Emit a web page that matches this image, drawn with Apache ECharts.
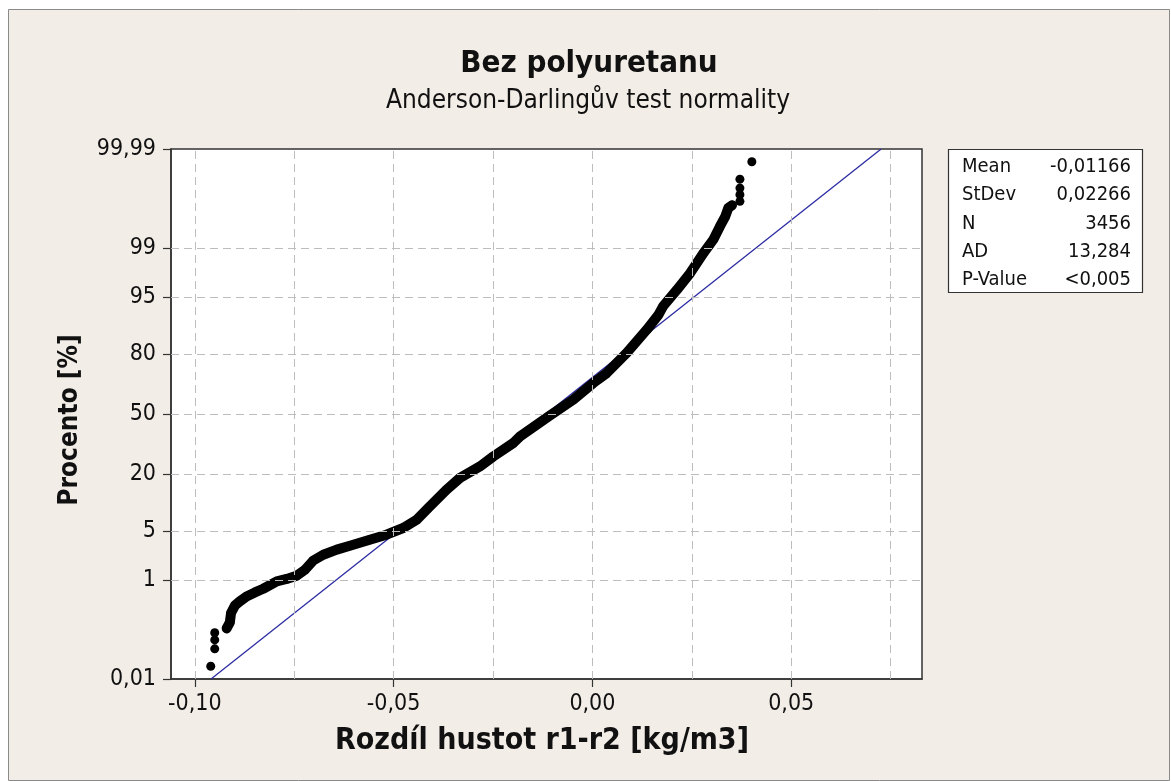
<!DOCTYPE html>
<html lang="cs">
<head>
<meta charset="UTF-8">
<title>Bez polyuretanu</title>
<script src="https://cdn.jsdelivr.net/npm/echarts@6/dist/echarts.min.js"></script>
<style>
    html, body { margin: 0; padding: 0; background: #fff; }
    #chart { width: 1171px; height: 781px; }
</style>
</head>
<body>
<div id="chart"></div>
<script>
// values: x = r1-r2 difference, pct = cumulative percent
var lowTailX = [-0.0960, -0.0950, -0.0950, -0.0950];
var lowTailPct = [0.020, 0.049, 0.076, 0.107];

var bandX = [-0.0920, -0.0912, -0.0909, -0.0899, -0.0887, -0.0870, -0.0849, -0.0828, -0.0794, -0.0769,
    -0.0744, -0.0723, -0.0702, -0.0677, -0.0643, -0.0610, -0.0560, -0.0518, -0.0476, -0.0442,
    -0.0413, -0.0367, -0.0333, -0.0283, -0.0249, -0.0199, -0.0182, -0.0110, -0.0048, 0.0002,
    0.0036, 0.0086, 0.0137, 0.0166, 0.0178, 0.0212, 0.0246, 0.0279, 0.0304, 0.0321,
    0.0334, 0.0342, 0.0351];
var bandPct = [0.131, 0.172, 0.261, 0.362, 0.427, 0.523, 0.614, 0.71, 0.94, 1.03,
    1.16, 1.44, 1.99, 2.41, 2.85, 3.23, 3.89, 4.51, 5.48, 6.9,
    9.36, 14.4, 18.5, 23.1, 27.6, 34.2, 37.7, 48.7, 58.0, 66.8,
    71.7, 80.4, 88.2, 91.8, 93.5, 95.9, 97.6, 98.8, 99.28, 99.58,
    99.72, 99.81, 99.83];

var highTailX = [0.0371, 0.0371, 0.0371, 0.0371, 0.0401];
var highTailPct = [99.858, 99.896, 99.924, 99.951, 99.980];

var fitMean = -0.01166;
var fitStDev = 0.02266;
var statNames = ['Mean', 'StDev', 'N', 'AD', 'P-Value'];
var statValues = ['-0,01166', '0,02266', '3456', '13,284', '<0,005'];

var xTicks = [-0.10, -0.05, 0, 0.05];
var xGrid = [-0.10, -0.075, -0.05, -0.025, 0, 0.025, 0.05, 0.075];
var yTickPct = [0.01, 1, 5, 20, 50, 80, 95, 99, 99.99];
var yTickLabels = ['0,01', '1', '5', '20', '50', '80', '95', '99', '99,99'];

var FONT = "'DejaVu Sans Condensed', 'DejaVu Sans', sans-serif";

// inverse normal cdf (Acklam), used for the probability scale
function probit(p) {
    var a = [-3.969683028665376e+01, 2.209460984245205e+02, -2.759285104469687e+02, 1.383577518672690e+02, -3.066479806614716e+01, 2.506628277459239e+00];
    var b = [-5.447609879822406e+01, 1.615858368580409e+02, -1.556989798598866e+02, 6.680131188771972e+01, -1.328068155288572e+01];
    var c = [-7.784894002430293e-03, -3.223964580411365e-01, -2.400758277161838e+00, -2.549732539343734e+00, 4.374664141464968e+00, 2.938163982698783e+00];
    var d = [7.784695709041462e-03, 3.224671290700398e-01, 2.445134137142996e+00, 3.754408661907416e+00];
    var pl = 0.02425, q, r;
    if (p < pl) {
        q = Math.sqrt(-2 * Math.log(p));
        return (((((c[0] * q + c[1]) * q + c[2]) * q + c[3]) * q + c[4]) * q + c[5]) / ((((d[0] * q + d[1]) * q + d[2]) * q + d[3]) * q + 1);
    }
    if (p > 1 - pl) {
        q = Math.sqrt(-2 * Math.log(1 - p));
        return -(((((c[0] * q + c[1]) * q + c[2]) * q + c[3]) * q + c[4]) * q + c[5]) / ((((d[0] * q + d[1]) * q + d[2]) * q + d[3]) * q + 1);
    }
    q = p - 0.5; r = q * q;
    return (((((a[0] * r + a[1]) * r + a[2]) * r + a[3]) * r + a[4]) * r + a[5]) * q / (((((b[0] * r + b[1]) * r + b[2]) * r + b[3]) * r + b[4]) * r + 1);
}
function zOf(pct) { return probit(pct / 100); }

function pairs(xs, ps) {
    var out = [];
    for (var i = 0; i < xs.length; i++) out.push([xs[i], zOf(ps[i])]);
    return out;
}

var yMin = zOf(yTickPct[0]);
var yMax = zOf(yTickPct[yTickPct.length - 1]);
var yTickZ = yTickPct.map(zOf);

var gridLines = [];
xGrid.forEach(function (v) { gridLines.push({ xAxis: v }); });
yTickPct.slice(1, -1).forEach(function (p) { gridLines.push({ yAxis: zOf(p) }); });

// frame, stats box and texts
var graphics = [
    { type: 'rect', z: -10, shape: { x: 8.5, y: 9.5, width: 1161, height: 771 },
      style: { fill: '#f3ede7', stroke: '#8a8a8a', lineWidth: 1 } },
    { type: 'rect', z: 10, shape: { x: 948.5, y: 149.5, width: 194, height: 143 },
      style: { fill: '#fff', stroke: '#333', lineWidth: 1.2 } },
    { type: 'text', z: 11, x: 589, y: 64,
      style: { text: 'Bez polyuretanu', font: 'bold 31px ' + FONT, fill: '#111', textAlign: 'center', textVerticalAlign: 'middle' } },
    { type: 'text', z: 11, x: 588, y: 101,
      style: { text: 'Anderson-Darlingův test normality', font: '26px ' + FONT, fill: '#111', textAlign: 'center', textVerticalAlign: 'middle' } },
    { type: 'text', z: 11, x: 542, y: 741,
      style: { text: 'Rozdíl hustot r1-r2 [kg/m3]', font: 'bold 30px ' + FONT, fill: '#111', textAlign: 'center', textVerticalAlign: 'middle' } },
    { type: 'text', z: 11, x: 70, y: 420, rotation: Math.PI / 2,
      style: { text: 'Procento [%]', font: 'bold 26px ' + FONT, fill: '#111', textAlign: 'center', textVerticalAlign: 'middle' } }
];
for (var i = 0; i < statNames.length; i++) {
    var ty = 166.7 + i * 28.3;
    graphics.push({ type: 'text', z: 11, x: 962, y: ty,
        style: { text: statNames[i], font: '20px ' + FONT, fill: '#111', textAlign: 'left', textVerticalAlign: 'middle' } });
    graphics.push({ type: 'text', z: 11, x: 1131, y: ty,
        style: { text: statValues[i], font: '20px ' + FONT, fill: '#111', textAlign: 'right', textVerticalAlign: 'middle' } });
}

var myChart = echarts.init(document.getElementById('chart'));
var option = {
    animation: false,
    backgroundColor: '#fff',
    grid: {
        left: 171, top: 149, width: 751, height: 530,
        show: true, backgroundColor: '#fff', borderColor: '#333', borderWidth: 1.5
    },
    xAxis: {
        type: 'value',
        min: -0.106, max: 0.0829,
        splitLine: { show: false },
        axisLine: { show: true, onZero: false, lineStyle: { color: '#333', width: 1.5 } },
        axisTick: { show: true, customValues: xTicks, length: 8, lineStyle: { color: '#333', width: 1.2 } },
        axisLabel: {
            customValues: xTicks, margin: 14, fontSize: 23, fontFamily: FONT, color: '#111',
            formatter: function (v) { return v.toFixed(2).replace('.', ','); }
        }
    },
    yAxis: {
        type: 'value',
        min: yMin, max: yMax,
        splitLine: { show: false },
        axisLine: { show: true, onZero: false, lineStyle: { color: '#333', width: 1.5 } },
        axisTick: { show: true, customValues: yTickZ, length: 8, lineStyle: { color: '#333', width: 1.2 } },
        axisLabel: {
            customValues: yTickZ, margin: 15, fontSize: 23, fontFamily: FONT, color: '#111',
            showMinLabel: true, showMaxLabel: true,
            formatter: function (v) {
                var best = 0;
                for (var k = 1; k < yTickZ.length; k++) {
                    if (Math.abs(yTickZ[k] - v) < Math.abs(yTickZ[best] - v)) best = k;
                }
                return yTickLabels[best];
            }
        }
    },
    graphic: graphics,
    series: [
        {
            name: 'fit',
            type: 'line',
            z: 2,
            symbol: 'none',
            data: [[fitMean + yMin * fitStDev, yMin], [fitMean + yMax * fitStDev, yMax]],
            lineStyle: { color: '#2b2ba3', width: 1.3 },
            markLine: {
                silent: true,
                precision: 8,
                symbol: ['none', 'none'],
                label: { show: false },
                lineStyle: { type: [8, 5], color: '#bdbdbd', width: 1 },
                emphasis: { disabled: true },
                data: gridLines
            }
        },
        {
            name: 'band',
            type: 'line',
            z: 3,
            data: pairs(bandX, bandPct),
            symbol: 'circle',
            symbolSize: 9,
            itemStyle: { color: '#000', opacity: 1 },
            lineStyle: { color: '#000', width: 10, cap: 'round', join: 'round' }
        },
        {
            name: 'tails',
            type: 'scatter',
            z: 4,
            symbolSize: 9,
            itemStyle: { color: '#000', opacity: 1 },
            data: pairs(lowTailX, lowTailPct).concat(pairs(highTailX, highTailPct))
        }
    ]
};
myChart.setOption(option);
</script>
</body>
</html>
